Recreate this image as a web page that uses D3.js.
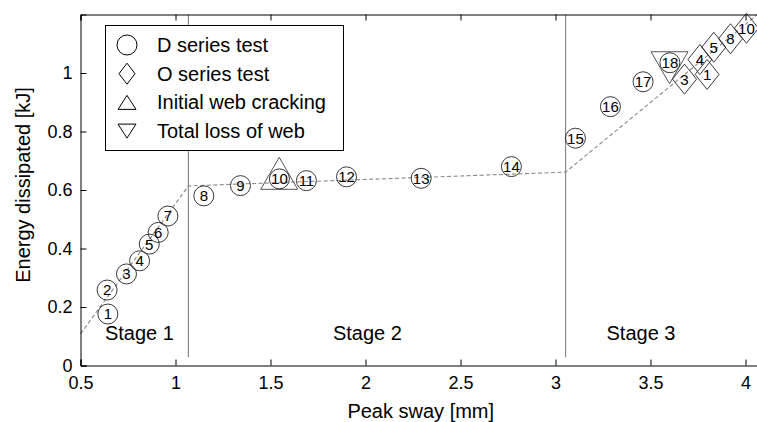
<!DOCTYPE html>
<html><head><meta charset="utf-8">
<script src="https://cdn.jsdelivr.net/npm/d3@7"></script>
<style>
html,body{margin:0;padding:0;background:#fff;}
svg{display:block;font-family:"Liberation Sans",Arial,Helvetica,sans-serif;}
</style></head>
<body>
<svg id="c" width="757" height="422"></svg>
<script>
// D series test (circles)
const dLabels = ["1","2","3","4","5","6","7","8","9","10","11","12","13","14","15","16","17","18"];
const dSway   = [0.644,0.640,0.742,0.811,0.862,0.909,0.960,1.149,1.342,1.547,1.689,1.900,2.293,2.768,3.105,3.289,3.461,3.602];
const dEnergy = [0.176,0.258,0.313,0.358,0.415,0.455,0.511,0.580,0.615,0.638,0.632,0.645,0.640,0.680,0.777,0.885,0.970,1.035];
// O series test (diamonds)
const oLabels = ["3","1","4","5","8","10"];
const oSway   = [3.679,3.798,3.760,3.833,3.921,4.005];
const oEnergy = [0.979,0.995,1.046,1.088,1.117,1.153];
// Initial web cracking / Total loss of web
const crackSway = [1.546], crackEnergy = [0.657];
const lossSway  = [3.600], lossEnergy  = [1.018];
// Trilinear fit (dashed)
const fitSway   = [0.5, 1.068, 3.053, 4.063];
const fitEnergy = [0.108, 0.614, 0.661, 1.200];
// Stage boundaries
const stageBounds = [1.068, 3.053];
const stageNames = ["Stage 1","Stage 2","Stage 3"];
const stageCenters = [0.81, 2.01, 3.45];
// Ticks
const xTicks = [0.5,1,1.5,2,2.5,3,3.5,4];
const yTicks = [0,0.2,0.4,0.6,0.8,1];
const legendNames = ["D series test","O series test","Initial web cracking","Total loss of web"];

const svg = d3.select("#c");
const L = 80.5, R = 757.5, T = 14.5, B = 365.5;
const x = d3.scaleLinear().domain([0.5, 0.5 + (R - L) / 190]).range([L, R]);
const y = d3.scaleLinear().domain([0, 1.2]).range([B, T]);

// stage lines
svg.selectAll("line.stage").data(stageBounds).join("line")
  .attr("x1", d => x(d)).attr("x2", d => x(d))
  .attr("y1", y(0.028)).attr("y2", T)
  .attr("stroke", "#8a8a8a").attr("stroke-width", 1.2);

// fit line
svg.append("path")
  .datum(d3.zip(fitSway, fitEnergy))
  .attr("d", d3.line().x(d => x(d[0])).y(d => y(d[1])))
  .attr("fill", "none").attr("stroke", "#8a8a8a").attr("stroke-width", 1.1)
  .attr("stroke-dasharray", "4,2.5");

// stage labels
svg.selectAll("text.stage").data(stageNames).join("text")
  .attr("x", (d, i) => x(stageCenters[i])).attr("y", 340)
  .attr("text-anchor", "middle").attr("font-size", 20).attr("fill", "#000")
  .text(d => d);

// axes (inward ticks)
const xa = d3.axisBottom(x).tickValues(xTicks).tickSize(-6).tickPadding(11)
  .tickFormat(d => d3.format("~g")(d));
svg.append("g").attr("transform", `translate(0,${B})`).call(xa)
  .call(g => g.selectAll("text").attr("font-size", 18).attr("font-family", "Liberation Sans, Arial, sans-serif").attr("fill", "#000"))
  .call(g => g.select(".domain").attr("stroke", "#000"))
  .call(g => g.selectAll(".tick line").attr("stroke", "#000"));
const xt = d3.axisTop(x).tickValues(xTicks).tickSize(-6).tickFormat("");
svg.append("g").attr("transform", `translate(0,${T})`).call(xt)
  .call(g => g.select(".domain").attr("stroke", "#000"))
  .call(g => g.selectAll(".tick line").attr("stroke", "#000"));
const ya = d3.axisLeft(y).tickValues(yTicks).tickSize(-6).tickPadding(8)
  .tickFormat(d => d3.format("~g")(d));
svg.append("g").attr("transform", `translate(${L},0)`).call(ya)
  .call(g => g.selectAll("text").attr("font-size", 18).attr("font-family", "Liberation Sans, Arial, sans-serif").attr("fill", "#000"))
  .call(g => g.select(".domain").attr("stroke", "#000"))
  .call(g => g.selectAll(".tick line").attr("stroke", "#000"));

// axis titles
svg.append("text").attr("x", (L + 677) / 2 + 42).attr("y", 418)
  .attr("text-anchor", "middle").attr("font-size", 20).text("Peak sway [mm]");
svg.append("text").attr("transform", "translate(30,185) rotate(-90)")
  .attr("text-anchor", "middle").attr("font-size", 20).text("Energy dissipated [kJ]");

// markers
const triUp = (s, h) => `M0,${-h}L${s},${h}L${-s},${h}Z`;
const triDown = (s, h) => `M0,${h}L${s},${-h}L${-s},${-h}Z`;
const diamond = (w, h) => `M0,${-h}L${w},0L0,${h}L${-w},0Z`;

svg.selectAll("path.crack").data(d3.zip(crackSway, crackEnergy)).join("path")
  .attr("transform", d => `translate(${x(d[0])},${y(d[1])})`)
  .attr("d", triUp(18.5, 16)).attr("fill", "none").attr("stroke", "#555").attr("stroke-width", 1);
svg.selectAll("path.loss").data(d3.zip(lossSway, lossEnergy)).join("path")
  .attr("transform", d => `translate(${x(d[0])},${y(d[1])})`)
  .attr("d", triDown(18.5, 16)).attr("fill", "none").attr("stroke", "#555").attr("stroke-width", 1);

const dg = svg.selectAll("g.d").data(dLabels).join("g")
  .attr("transform", (d, i) => `translate(${x(dSway[i])},${y(dEnergy[i])})`);
dg.append("circle").attr("r", 10).attr("fill", "none").attr("stroke", "#222").attr("stroke-width", 0.9);
dg.append("text").attr("text-anchor", "middle").attr("dy", "0.36em")
  .attr("font-size", 15).text(d => d);

const og = svg.selectAll("g.o").data(oLabels).join("g")
  .attr("transform", (d, i) => `translate(${x(oSway[i])},${y(oEnergy[i])})`);
og.append("path").attr("d", diamond(12, 15)).attr("fill", "none").attr("stroke", "#222").attr("stroke-width", 0.9);
og.append("text").attr("text-anchor", "middle").attr("dy", "0.36em")
  .attr("font-size", 15).text(d => d);

// legend
const lg = svg.append("g");
lg.append("rect").attr("x", 105.5).attr("y", 25.5).attr("width", 238).attr("height", 125)
  .attr("fill", "#fff").attr("stroke", "#000").attr("stroke-width", 1);
const rows = lg.selectAll("g.row").data(legendNames).join("g")
  .attr("transform", (d, i) => `translate(127,${45 + i * 28.7})`);
rows.append("path").attr("d", (d, i) => [
  d3.symbol(d3.symbolCircle, Math.PI * 100)(),
  diamond(8, 10.5),
  triUp(9, 7),
  triDown(9, 7)
][i]).attr("fill", "none").attr("stroke", "#000").attr("stroke-width", 1);
rows.append("text").attr("x", 30).attr("dy", "0.35em").attr("font-size", 20).text(d => d);
</script>
</body></html>
